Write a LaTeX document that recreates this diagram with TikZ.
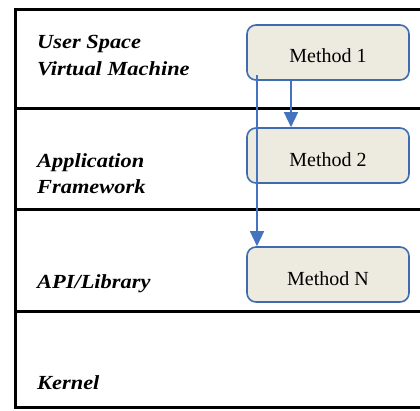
\documentclass[tikz,border=0pt]{standalone}
\usepackage{fontspec}
\setmainfont{Liberation Serif}
\newfontfamily\layerfont[FakeStretch=1.12]{Liberation Serif}
\usetikzlibrary{arrows.meta}
\definecolor{boxfill}{HTML}{EDEBE0}
\definecolor{boxedge}{HTML}{3F6CB0}
\definecolor{flow}{HTML}{4473C0}
\newcommand{\methodtext}[2]{\raisebox{-#1}[0pt][0pt]{#2}}
\tikzset{
  frameline/.style={line width=3pt, black},
  layerlabel/.style={anchor=base west, inner sep=0pt,
    font=\layerfont\bfseries\itshape\fontsize{20}{24}\selectfont},
  methodbox/.style={draw=boxedge, fill=boxfill, line width=1.6pt,
    rounded corners=9pt, minimum width=162pt, minimum height=55pt,
    inner sep=0pt, font=\fontsize{20}{24}\selectfont},
  callarrow/.style={draw=flow, line width=1.4pt,
    -{Triangle[length=15pt,width=14pt]}}
}
\begin{document}
\begin{tikzpicture}[x=1pt,y=-1pt]
  \useasboundingbox (0,0) rectangle (420,410);
  % layer frame, open on the right
  \draw[frameline, line join=miter] (421,9) -- (15,9) -- (15,407) -- (421,407);
  \draw[frameline] (15,108) -- (421,108);
  \draw[frameline] (15,209) -- (421,209);
  \draw[frameline] (15,311) -- (421,311);
  % layer names
  \node[layerlabel] (us1) at (37,48) {User Space};
  \node[layerlabel] (us2) at (37,75) {Virtual Machine};
  \node[layerlabel] (af1) at (37,167) {Application};
  \node[layerlabel] (af2) at (37,193) {Framework};
  \node[layerlabel] (api) at (37,288) {API/Library};
  \node[layerlabel] (krn) at (37,389) {Kernel};
  % methods
  \node[methodbox] (m1) at (328,52.5) {\methodtext{9.5pt}{Method 1}};
  \node[methodbox] (m2) at (328,155.5) {\methodtext{11pt}{Method 2}};
  \node[methodbox] (mn) at (328,274.5) {\methodtext{10.5pt}{Method N}};
  % calls
  \coordinate (src) at (257,75);
  \draw[callarrow] (m1.south -| 291,0) -- (m2.north -| 291,0);
  \draw[callarrow] (src) -- (mn.north -| src);
\end{tikzpicture}
\end{document}
